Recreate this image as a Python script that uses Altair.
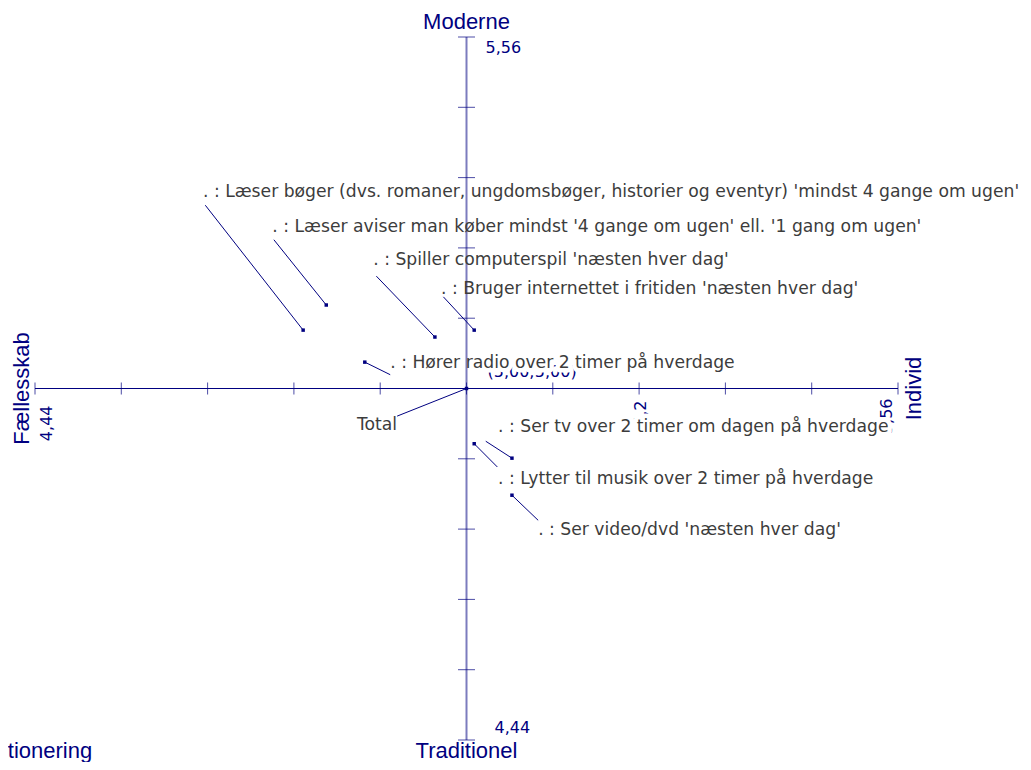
import altair as alt
import pandas as pd

# ---- data -------------------------------------------------------------
labels = [
    ". : Læser bøger (dvs. romaner, ungdomsbøger, historier og eventyr) 'mindst 4 gange om ugen'",
    ". : Læser aviser man køber mindst '4 gange om ugen' ell. '1 gang om ugen'",
    ". : Spiller computerspil 'næsten hver dag'",
    ". : Bruger internettet i fritiden 'næsten hver dag'",
    ". : Hører radio over 2 timer på hverdage",
    "Total",
    ". : Ser tv over 2 timer om dagen på hverdage",
    ". : Lytter til musik over 2 timer på hverdage",
    ". : Ser video/dvd 'næsten hver dag'",
]
point_x = [4.788, 4.818, 4.959, 5.010, 4.868, 5.000, 5.059, 5.010, 5.059]
point_y = [5.093, 5.133, 5.082, 5.093, 5.042, 5.000, 4.889, 4.912, 4.830]
leader_x = [4.661, 4.750, 4.883, 4.970, 4.901, 4.910, 5.025, 5.040, 5.093]
leader_y = [5.292, 5.237, 5.179, 5.146, 5.022, 4.956, 4.916, 4.875, 4.790]
label_x = [4.658, 4.748, 4.879, 4.967, 4.901, 4.910, 5.041, 5.041, 5.093]
label_y = [5.313, 5.257, 5.205, 5.159, 5.041, 4.942, 4.939, 4.856, 4.775]

axis_min, axis_max, center = 4.44, 5.56, 5.00
tick_values = [4.44, 4.552, 4.664, 4.776, 4.888, 5.0, 5.112, 5.224, 5.336, 5.448, 5.56]
marked_tick = 5.224

title_top, title_bottom = "Moderne", "Traditionel"
title_left, title_right = "Fællesskab", "Individ"
corner_title = "Positionering"
lab_min, lab_max, lab_mark, lab_center = "4,44", "5,56", "5,2", "(5,00;5,00)"

# ---- styling ----------------------------------------------------------
NAVY = "#000080"
GREY = "#3c3c3c"
FONT = "Liberation Sans"
LFONT = "DejaVu Sans"
LSIZE = 17.2

df = pd.DataFrame({
    "label": labels, "px": point_x, "py": point_y,
    "lx": leader_x, "ly": leader_y, "tx": label_x, "ty": label_y,
})
ticks = pd.DataFrame({"t": tick_values})

xs = alt.Scale(domain=[axis_min, axis_max], nice=False, zero=False)
ys = alt.Scale(domain=[axis_min, axis_max], nice=False, zero=False)


def X(field):
    return alt.X(field, type="quantitative", scale=xs, axis=None)


def Y(field):
    return alt.Y(field, type="quantitative", scale=ys, axis=None)


def XD(v):
    return alt.XDatum(v, scale=xs, axis=None)


def YD(v):
    return alt.YDatum(v, scale=ys, axis=None)


def txt(text, xv, yv, size=16, color=NAVY, font=LFONT, **kw):
    return alt.Chart().mark_text(text=text, font=font, fontSize=size, color=color, **kw).encode(
        x=XD(xv), y=YD(yv))


base = alt.Chart(df)

# value labels (drawn first, partly hidden by the label boxes)
val_top = txt(lab_max, center, axis_max, align="left", baseline="alphabetic", dx=19, dy=16)
val_bottom = txt(lab_min, center, axis_min, align="left", baseline="alphabetic", dx=28, dy=-7)
val_left = txt(lab_min, axis_min, center, angle=270, align="right", baseline="alphabetic", dx=-17, dy=17)
val_right = txt(lab_max, axis_max, center, angle=270, align="right", baseline="alphabetic", dx=-10, dy=-6)
val_mark = txt(lab_mark, marked_tick, center, angle=270, align="right", baseline="alphabetic", dx=-12, dy=7)
val_center = txt(lab_center, center, center, align="left", baseline="alphabetic", dx=21, dy=-12)

# white boxes behind the point labels
halo_left = base.transform_filter(alt.datum.label != "Total").mark_text(
    font=LFONT, fontSize=LSIZE, align="left", baseline="middle", color="white",
    stroke="white", strokeWidth=9, strokeJoin="round").encode(x=X("tx"), y=Y("ty"), text="label:N")
halo_right = base.transform_filter(alt.datum.label == "Total").mark_text(
    font=LFONT, fontSize=LSIZE, align="right", baseline="middle", color="white",
    stroke="white", strokeWidth=9, strokeJoin="round").encode(x=X("tx"), y=Y("ty"), text="label:N")

# axes
h_axis = alt.Chart().mark_rule(color=NAVY, strokeWidth=1).encode(
    x=XD(axis_min), x2=alt.X2Datum(axis_max), y=YD(center))
v_axis = alt.Chart().mark_rule(color="#7c7cbe", strokeWidth=2).encode(
    y=YD(axis_min), y2=alt.Y2Datum(axis_max), x=XD(center))
h_ticks = alt.Chart(ticks).mark_tick(color=NAVY, orient="vertical", size=12, thickness=1).encode(
    x=X("t"), y=YD(center))
v_ticks = alt.Chart(ticks).mark_tick(color=NAVY, orient="horizontal", size=17, thickness=1).encode(
    y=Y("t"), x=XD(center))

# leader lines and points
leaders = base.mark_rule(color=NAVY, strokeWidth=1).encode(
    x=X("px"), y=Y("py"), x2="lx", y2="ly")
points = base.mark_square(color=NAVY, size=12, opacity=1).encode(x=X("px"), y=Y("py"))

# point labels
lab_left = base.transform_filter(alt.datum.label != "Total").mark_text(
    font=LFONT, fontSize=LSIZE, align="left", baseline="middle", color=GREY).encode(
    x=X("tx"), y=Y("ty"), text="label:N")
lab_right = base.transform_filter(alt.datum.label == "Total").mark_text(
    font=LFONT, fontSize=LSIZE, align="right", baseline="middle", color=GREY).encode(
    x=X("tx"), y=Y("ty"), text="label:N")

# axis titles
t_top = txt(title_top, center, axis_max, size=22, font=FONT, align="center", baseline="alphabetic", dy=-8)
t_bottom = txt(title_bottom, center, axis_min, size=22, font=FONT, align="center", baseline="alphabetic", dy=18)
t_left = txt(title_left, axis_min, center, size=22, font=FONT, angle=270, align="center", baseline="alphabetic", dy=-6)
t_right = txt(title_right, axis_max, center, size=22, font=FONT, angle=270, align="center", baseline="alphabetic", dy=23)
t_corner = txt(corner_title, axis_min, axis_min, size=22, font=FONT, align="left", baseline="alphabetic", dx=-70, dy=18)

chart = alt.layer(
    val_top, val_bottom, val_left, val_right, val_mark, val_center,
    halo_left, halo_right,
    h_axis, v_axis, h_ticks, v_ticks,
    leaders, points,
    lab_left, lab_right,
    t_top, t_bottom, t_left, t_right, t_corner,
).properties(
    width=863, height=703,
    padding={"left": 27, "top": 29, "right": 125, "bottom": 22},
    autosize=alt.AutoSizeParams(type="none"),
    background="white",
).configure_view(stroke=None)

chart.save("out.html", embed_options={"renderer": "svg", "actions": False})
